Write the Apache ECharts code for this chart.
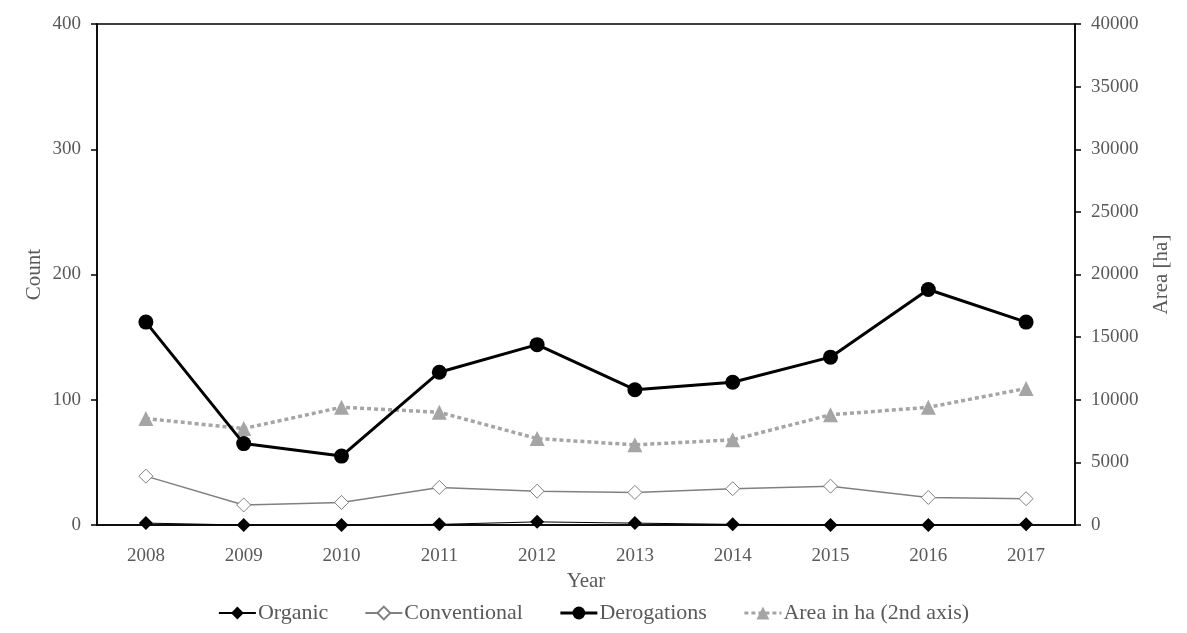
<!DOCTYPE html>
<html>
<head>
<meta charset="utf-8">
<script src="https://cdn.jsdelivr.net/npm/echarts@6/dist/echarts.min.js"></script>
<style>
  html, body { margin: 0; padding: 0; background: #fff; }
  #chart { width: 1187px; height: 633px; }
</style>
</head>
<body>
<div id="chart"></div>
<script>
// Yearly counts (left axis) and affected area in hectares (right axis)
const years = ['2008', '2009', '2010', '2011', '2012', '2013', '2014', '2015', '2016', '2017'];
const organic = [1.5, 0, 0, 0.5, 2.5, 1.5, 0.5, 0, 0, 0.5];
const conventional = [39, 16, 18, 30, 27, 26, 29, 31, 22, 21];
const derogations = [162, 65, 55, 122, 144, 108, 114, 134, 188, 162];
const areaHa = [8500, 7700, 9400, 9000, 6900, 6400, 6800, 8800, 9400, 10900];

const countTicks = { min: 0, max: 400, interval: 100 };
const areaTicks = { min: 0, max: 40000, interval: 5000 };

const FONT = '"Liberation Serif", "DejaVu Serif", serif';
const TEXT = '#595959';

const chart = echarts.init(document.getElementById('chart'), null, { renderer: 'canvas' });

const axisLine = { show: true, lineStyle: { color: '#000', width: 1.5 } };
const axisTick = { show: true, inside: false, length: 6, lineStyle: { color: '#000', width: 1.5 } };

chart.setOption({
  animation: false,
  backgroundColor: '#fff',
  textStyle: { fontFamily: FONT },
  grid: {
    left: 97, right: 112, top: 24, bottom: 108,
    show: true, borderColor: '#000', borderWidth: 1.5, backgroundColor: 'transparent'
  },
  legend: {
    bottom: 4,
    left: 'center',
    itemWidth: 37,
    itemHeight: 16,
    itemGap: 36,
    textStyle: { fontFamily: FONT, fontSize: 22, color: TEXT, padding: [0, 0, 0, -3] },
    data: [
      { name: 'Organic' },
      { name: 'Conventional' },
      { name: 'Derogations', lineStyle: { width: 3 } },
      { name: 'Area in ha (2nd axis)', lineStyle: { width: 3 } }
    ]
  },
  xAxis: {
    type: 'category',
    data: years,
    boundaryGap: true,
    name: 'Year',
    nameLocation: 'middle',
    nameGap: 45,
    nameTextStyle: { fontFamily: FONT, fontSize: 21, color: TEXT },
    axisLine: axisLine,
    axisTick: { show: false },
    axisLabel: { fontFamily: FONT, fontSize: 19, color: TEXT, margin: 22 },
    splitLine: { show: false }
  },
  yAxis: [
    {
      type: 'value',
      min: countTicks.min, max: countTicks.max, interval: countTicks.interval,
      name: 'Count',
      nameLocation: 'middle',
      nameGap: 52,
      nameMoveOverlap: false,
      nameRotate: 90,
      nameTextStyle: { fontFamily: FONT, fontSize: 21, color: TEXT },
      axisLine: axisLine,
      axisTick: axisTick,
      axisLabel: { fontFamily: FONT, fontSize: 19, color: TEXT, margin: 16 },
      splitLine: { show: false }
    },
    {
      type: 'value',
      position: 'right',
      min: areaTicks.min, max: areaTicks.max, interval: areaTicks.interval,
      name: 'Area [ha]',
      nameLocation: 'middle',
      nameGap: 76,
      nameMoveOverlap: false,
      nameRotate: 90,
      nameTextStyle: { fontFamily: FONT, fontSize: 21, color: TEXT },
      axisLine: axisLine,
      axisTick: axisTick,
      axisLabel: {
        fontFamily: FONT, fontSize: 19, color: TEXT, margin: 16,
        formatter: (v) => String(v)
      },
      splitLine: { show: false }
    }
  ],
  series: [
    {
      name: 'Area in ha (2nd axis)',
      type: 'line',
      yAxisIndex: 1,
      data: areaHa,
      symbol: 'triangle',
      symbolSize: 15,
      itemStyle: { color: '#a5a5a5' },
      lineStyle: { color: '#a5a5a5', width: 3.5, type: [4, 3] },
      z: 2
    },
    {
      name: 'Conventional',
      type: 'line',
      yAxisIndex: 0,
      data: conventional,
      symbol: 'diamond',
      symbolSize: 14,
      itemStyle: { color: '#fff', borderColor: '#808080', borderWidth: 1 },
      lineStyle: { color: '#808080', width: 1.5 },
      z: 3
    },
    {
      name: 'Organic',
      type: 'line',
      yAxisIndex: 0,
      data: organic,
      symbol: 'diamond',
      symbolSize: 14,
      itemStyle: { color: '#000' },
      lineStyle: { color: '#000', width: 1 },
      z: 4
    },
    {
      name: 'Derogations',
      type: 'line',
      yAxisIndex: 0,
      data: derogations,
      symbol: 'circle',
      symbolSize: 15,
      itemStyle: { color: '#000' },
      lineStyle: { color: '#000', width: 3 },
      z: 5
    }
  ]
});
</script>
</body>
</html>
